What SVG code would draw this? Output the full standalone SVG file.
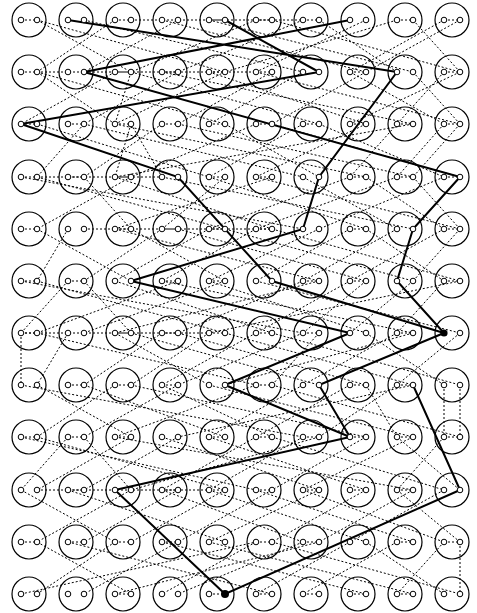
<svg xmlns="http://www.w3.org/2000/svg" width="477" height="613" viewBox="0 0 477 613">
<defs>
<style>
.n{fill:none;stroke:#000;stroke-width:1.2}
.p{fill:#fff;stroke:#000;stroke-width:1}
.d{fill:none;stroke:#000;stroke-width:1;stroke-dasharray:2,2}
.b{fill:none;stroke:#000;stroke-width:2}
</style>
<g id="node"><circle class="n" cx="0" cy="0" r="17"/></g>
</defs>
<rect width="477" height="613" fill="#fff"/>
<g id="nodes">
<g id="row1"><use href="#node" x="29" y="20"/><use href="#node" x="76" y="20"/><use href="#node" x="123" y="20"/><use href="#node" x="170" y="20"/><use href="#node" x="217" y="20"/><use href="#node" x="264" y="20"/><use href="#node" x="311" y="20"/><use href="#node" x="358" y="20"/><use href="#node" x="405" y="20"/><use href="#node" x="452" y="20"/></g>
<g id="row2"><use href="#node" x="29" y="72"/><use href="#node" x="76" y="72"/><use href="#node" x="123" y="72"/><use href="#node" x="170" y="72"/><use href="#node" x="217" y="72"/><use href="#node" x="264" y="72"/><use href="#node" x="311" y="72"/><use href="#node" x="358" y="72"/><use href="#node" x="405" y="72"/><use href="#node" x="452" y="72"/></g>
<g id="row3"><use href="#node" x="29" y="124"/><use href="#node" x="76" y="124"/><use href="#node" x="123" y="124"/><use href="#node" x="170" y="124"/><use href="#node" x="217" y="124"/><use href="#node" x="264" y="124"/><use href="#node" x="311" y="124"/><use href="#node" x="358" y="124"/><use href="#node" x="405" y="124"/><use href="#node" x="452" y="124"/></g>
<g id="row4"><use href="#node" x="29" y="177"/><use href="#node" x="76" y="177"/><use href="#node" x="123" y="177"/><use href="#node" x="170" y="177"/><use href="#node" x="217" y="177"/><use href="#node" x="264" y="177"/><use href="#node" x="311" y="177"/><use href="#node" x="358" y="177"/><use href="#node" x="405" y="177"/><use href="#node" x="452" y="177"/></g>
<g id="row5"><use href="#node" x="29" y="229"/><use href="#node" x="76" y="229"/><use href="#node" x="123" y="229"/><use href="#node" x="170" y="229"/><use href="#node" x="217" y="229"/><use href="#node" x="264" y="229"/><use href="#node" x="311" y="229"/><use href="#node" x="358" y="229"/><use href="#node" x="405" y="229"/><use href="#node" x="452" y="229"/></g>
<g id="row6"><use href="#node" x="29" y="281"/><use href="#node" x="76" y="281"/><use href="#node" x="123" y="281"/><use href="#node" x="170" y="281"/><use href="#node" x="217" y="281"/><use href="#node" x="264" y="281"/><use href="#node" x="311" y="281"/><use href="#node" x="358" y="281"/><use href="#node" x="405" y="281"/><use href="#node" x="452" y="281"/></g>
<g id="row7"><use href="#node" x="29" y="333"/><use href="#node" x="76" y="333"/><use href="#node" x="123" y="333"/><use href="#node" x="170" y="333"/><use href="#node" x="217" y="333"/><use href="#node" x="264" y="333"/><use href="#node" x="311" y="333"/><use href="#node" x="358" y="333"/><use href="#node" x="405" y="333"/><use href="#node" x="452" y="333"/></g>
<g id="row8"><use href="#node" x="29" y="385"/><use href="#node" x="76" y="385"/><use href="#node" x="123" y="385"/><use href="#node" x="170" y="385"/><use href="#node" x="217" y="385"/><use href="#node" x="264" y="385"/><use href="#node" x="311" y="385"/><use href="#node" x="358" y="385"/><use href="#node" x="405" y="385"/><use href="#node" x="452" y="385"/></g>
<g id="row9"><use href="#node" x="29" y="437"/><use href="#node" x="76" y="437"/><use href="#node" x="123" y="437"/><use href="#node" x="170" y="437"/><use href="#node" x="217" y="437"/><use href="#node" x="264" y="437"/><use href="#node" x="311" y="437"/><use href="#node" x="358" y="437"/><use href="#node" x="405" y="437"/><use href="#node" x="452" y="437"/></g>
<g id="row10"><use href="#node" x="29" y="490"/><use href="#node" x="76" y="490"/><use href="#node" x="123" y="490"/><use href="#node" x="170" y="490"/><use href="#node" x="217" y="490"/><use href="#node" x="264" y="490"/><use href="#node" x="311" y="490"/><use href="#node" x="358" y="490"/><use href="#node" x="405" y="490"/><use href="#node" x="452" y="490"/></g>
<g id="row11"><use href="#node" x="29" y="542"/><use href="#node" x="76" y="542"/><use href="#node" x="123" y="542"/><use href="#node" x="170" y="542"/><use href="#node" x="217" y="542"/><use href="#node" x="264" y="542"/><use href="#node" x="311" y="542"/><use href="#node" x="358" y="542"/><use href="#node" x="405" y="542"/><use href="#node" x="452" y="542"/></g>
<g id="row12"><use href="#node" x="29" y="594"/><use href="#node" x="76" y="594"/><use href="#node" x="123" y="594"/><use href="#node" x="170" y="594"/><use href="#node" x="217" y="594"/><use href="#node" x="264" y="594"/><use href="#node" x="311" y="594"/><use href="#node" x="358" y="594"/><use href="#node" x="405" y="594"/><use href="#node" x="452" y="594"/></g>
</g>
<g id="connectors">
<path class="d" d="M21 20H37M115 20H131M209 20H225M256 20H272M303 20H319M397 20H413M444 20H460M21 72H37M115 72H131M162 72H178M209 72H225M256 72H272M350 72H366M444 72H460M21 124H37M68 124H84M115 124H131M162 124H178M209 124H225M256 124H272M303 124H319M350 124H366M397 124H413M444 124H460M21 177H37M68 177H84M115 177H131M209 177H225M256 177H272M350 177H366M397 177H413M444 177H460M21 229H37M115 229H131M162 229H178M209 229H225M256 229H272M350 229H366M444 229H460M21 281H37M68 281H84M162 281H178M209 281H225M303 281H319M350 281H366M444 281H460M21 333H37M115 333H131M162 333H178M209 333H225M256 333H272M303 333H319M397 333H413M68 385H84M115 385H131M162 385H178M256 385H272M350 385H366M397 385H413M21 437H37M68 437H84M115 437H131M209 437H225M256 437H272M303 437H319M350 437H366M397 437H413M444 437H460M68 490H84M162 490H178M209 490H225M256 490H272M303 490H319M350 490H366M397 490H413M21 542H37M68 542H84M115 542H131M162 542H178M256 542H272M303 542H319M397 542H413M444 542H460M115 594H131M209 594H225M256 594H272M303 594H319M350 594H366M397 594H413"/>
<path class="d" d="M37 20L225 72M37 20L131 72M84 20L303 72M115 20L37 72M162 20L366 72M178 20L84 72M209 20L413 72M256 20L131 72M272 20L460 72M303 20L178 72M319 20L397 72M366 20L256 72M397 20L225 72M413 20L460 72M444 20L350 72M460 20L366 72M131 20L303 20"/>
<path class="d" d="M37 72L115 124M37 72L225 124M131 72L319 124M115 72L21 124M162 72L413 124M178 72L84 124M209 72L366 124M225 72L115 124M256 72L460 124M272 72L178 124M303 72L209 124M350 72L444 124M366 72L272 124M413 72L460 124M444 72L397 124M460 72L350 124M131 72L115 124M37 72L256 72"/>
<path class="d" d="M37 124L209 177M84 124L303 177M131 124L162 177M115 124L366 177M162 124L84 177M178 124L413 177M225 124L319 177M256 124L131 177M272 124L460 177M303 124L209 177M319 124L444 177M366 124L256 177M397 124L350 177M413 124L115 177M444 124L397 177M460 124L413 177M131 124L115 177M84 124L37 177"/>
<path class="d" d="M37 177L225 229M84 177L131 229M21 177L303 229M131 177L37 229M115 177L272 229M162 177L413 229M209 177L366 229M225 177L162 229M256 177L460 229M272 177L115 229M303 177L397 229M350 177L209 229M366 177L444 229M397 177L256 229M413 177L460 229M444 177L319 229M37 177L162 177"/>
<path class="d" d="M37 229L131 281M68 229L37 281M131 229L225 281M115 229L319 281M162 229L84 281M178 229L366 281M209 229L115 281M225 229L413 281M256 229L162 281M272 229L460 281M319 229L209 281M350 229L256 281M366 229L444 281M397 229L303 281M444 229L350 281M460 229L413 281M84 229L272 229"/>
<path class="d" d="M37 281L225 333M84 281L131 333M21 281L303 333M68 281L21 333M115 281L272 333M162 281L413 333M178 281L37 333M209 281L366 333M225 281L84 333M256 281L460 333M303 281L178 333M319 281L115 333M350 281L256 333M366 281L303 333M413 281L350 333M444 281L397 333M460 281L209 333"/>
<path class="d" d="M21 333L21 385M37 333L256 385M68 333L37 385M131 333L319 385M115 333L209 385M162 333L84 385M178 333L366 385M209 333L131 385M225 333L413 385M256 333L162 385M272 333L460 385M303 333L178 385M319 333L272 385M366 333L444 385M397 333L303 385M413 333L225 385M460 333L397 385M21 333L209 333"/>
<path class="d" d="M37 385L131 437M84 385L225 437M21 385L303 437M115 385L37 437M131 385L366 437M162 385L272 437M178 385L84 437M209 385L413 437M256 385L115 437M272 385L460 437M303 385L209 437M350 385L256 437M366 385L397 437M397 385L319 437M413 385L178 437M444 385L444 437M460 385L460 437"/>
<path class="d" d="M37 437L225 490M84 437L131 490M21 437L256 490M68 437L21 490M115 437L413 490M131 437L37 490M162 437L319 490M178 437L84 490M209 437L366 490M256 437L162 490M272 437L444 490M303 437L209 490M319 437L131 490M366 437L272 490M397 437L460 490M413 437L303 490M444 437L397 490"/>
<path class="d" d="M21 490L115 542M68 490L225 542M131 490L37 542M162 490L303 542M178 490L84 542M209 490L366 542M225 490L131 542M256 490L413 542M272 490L178 542M303 490L444 542M319 490L209 542M366 490L272 542M397 490L460 542M413 490L319 542M444 490L350 542M37 490L209 490"/>
<path class="d" d="M37 542L131 594M21 594L256 542M68 542L272 594M115 542L37 594M162 542L366 594M178 542L84 594M209 542L413 594M256 542L162 594M272 542L460 594M303 542L178 594M319 542L115 594M350 542L256 594M366 542L444 594M397 542L303 594M444 542L397 594M460 542L460 594"/>
<path class="b" d="M68 20L397 72M225 20L319 72M84 72L350 20M84 72L460 177M21 124L319 72M21 124L178 177L272 281L444 333M397 72L319 177L303 229L131 281M460 177L413 229L397 281L444 333M131 281L350 333M444 333L319 385L350 437M225 385L350 333M225 385L350 437M115 490L350 437M115 490L225 594L460 490M460 490L413 385"/>
</g>
<g id="ports" class="p">
<path class="p" d="M0 0"/>
</g>
<g id="portdots">
<g id="r1p"><circle class="p" cx="21" cy="20" r="2.8"/><circle class="p" cx="37" cy="20" r="2.8"/><circle class="p" cx="68" cy="20" r="2.8"/><circle class="p" cx="84" cy="20" r="2.8"/><circle class="p" cx="115" cy="20" r="2.8"/><circle class="p" cx="131" cy="20" r="2.8"/><circle class="p" cx="162" cy="20" r="2.8"/><circle class="p" cx="178" cy="20" r="2.8"/><circle class="p" cx="209" cy="20" r="2.8"/><circle class="p" cx="225" cy="20" r="2.8"/><circle class="p" cx="256" cy="20" r="2.8"/><circle class="p" cx="272" cy="20" r="2.8"/><circle class="p" cx="303" cy="20" r="2.8"/><circle class="p" cx="319" cy="20" r="2.8"/><circle class="p" cx="350" cy="20" r="2.8"/><circle class="p" cx="366" cy="20" r="2.8"/><circle class="p" cx="397" cy="20" r="2.8"/><circle class="p" cx="413" cy="20" r="2.8"/><circle class="p" cx="444" cy="20" r="2.8"/><circle class="p" cx="460" cy="20" r="2.8"/></g>
<g id="r2p"><circle class="p" cx="21" cy="72" r="2.8"/><circle class="p" cx="37" cy="72" r="2.8"/><circle class="p" cx="68" cy="72" r="2.8"/><circle class="p" cx="84" cy="72" r="2.8"/><circle class="p" cx="115" cy="72" r="2.8"/><circle class="p" cx="131" cy="72" r="2.8"/><circle class="p" cx="162" cy="72" r="2.8"/><circle class="p" cx="178" cy="72" r="2.8"/><circle class="p" cx="209" cy="72" r="2.8"/><circle class="p" cx="225" cy="72" r="2.8"/><circle class="p" cx="256" cy="72" r="2.8"/><circle class="p" cx="272" cy="72" r="2.8"/><circle class="p" cx="303" cy="72" r="2.8"/><circle class="p" cx="319" cy="72" r="2.8"/><circle class="p" cx="350" cy="72" r="2.8"/><circle class="p" cx="366" cy="72" r="2.8"/><circle class="p" cx="397" cy="72" r="2.8"/><circle class="p" cx="413" cy="72" r="2.8"/><circle class="p" cx="444" cy="72" r="2.8"/><circle class="p" cx="460" cy="72" r="2.8"/></g>
<g id="r3p"><circle class="p" cx="21" cy="124" r="2.8"/><circle class="p" cx="37" cy="124" r="2.8"/><circle class="p" cx="68" cy="124" r="2.8"/><circle class="p" cx="84" cy="124" r="2.8"/><circle class="p" cx="115" cy="124" r="2.8"/><circle class="p" cx="131" cy="124" r="2.8"/><circle class="p" cx="162" cy="124" r="2.8"/><circle class="p" cx="178" cy="124" r="2.8"/><circle class="p" cx="209" cy="124" r="2.8"/><circle class="p" cx="225" cy="124" r="2.8"/><circle class="p" cx="256" cy="124" r="2.8"/><circle class="p" cx="272" cy="124" r="2.8"/><circle class="p" cx="303" cy="124" r="2.8"/><circle class="p" cx="319" cy="124" r="2.8"/><circle class="p" cx="350" cy="124" r="2.8"/><circle class="p" cx="366" cy="124" r="2.8"/><circle class="p" cx="397" cy="124" r="2.8"/><circle class="p" cx="413" cy="124" r="2.8"/><circle class="p" cx="444" cy="124" r="2.8"/><circle class="p" cx="460" cy="124" r="2.8"/></g>
<g id="r4p"><circle class="p" cx="21" cy="177" r="2.8"/><circle class="p" cx="37" cy="177" r="2.8"/><circle class="p" cx="68" cy="177" r="2.8"/><circle class="p" cx="84" cy="177" r="2.8"/><circle class="p" cx="115" cy="177" r="2.8"/><circle class="p" cx="131" cy="177" r="2.8"/><circle class="p" cx="162" cy="177" r="2.8"/><circle class="p" cx="178" cy="177" r="2.8"/><circle class="p" cx="209" cy="177" r="2.8"/><circle class="p" cx="225" cy="177" r="2.8"/><circle class="p" cx="256" cy="177" r="2.8"/><circle class="p" cx="272" cy="177" r="2.8"/><circle class="p" cx="303" cy="177" r="2.8"/><circle class="p" cx="319" cy="177" r="2.8"/><circle class="p" cx="350" cy="177" r="2.8"/><circle class="p" cx="366" cy="177" r="2.8"/><circle class="p" cx="397" cy="177" r="2.8"/><circle class="p" cx="413" cy="177" r="2.8"/><circle class="p" cx="444" cy="177" r="2.8"/><circle class="p" cx="460" cy="177" r="2.8"/></g>
<g id="r5p"><circle class="p" cx="21" cy="229" r="2.8"/><circle class="p" cx="37" cy="229" r="2.8"/><circle class="p" cx="68" cy="229" r="2.8"/><circle class="p" cx="84" cy="229" r="2.8"/><circle class="p" cx="115" cy="229" r="2.8"/><circle class="p" cx="131" cy="229" r="2.8"/><circle class="p" cx="162" cy="229" r="2.8"/><circle class="p" cx="178" cy="229" r="2.8"/><circle class="p" cx="209" cy="229" r="2.8"/><circle class="p" cx="225" cy="229" r="2.8"/><circle class="p" cx="256" cy="229" r="2.8"/><circle class="p" cx="272" cy="229" r="2.8"/><circle class="p" cx="303" cy="229" r="2.8"/><circle class="p" cx="319" cy="229" r="2.8"/><circle class="p" cx="350" cy="229" r="2.8"/><circle class="p" cx="366" cy="229" r="2.8"/><circle class="p" cx="397" cy="229" r="2.8"/><circle class="p" cx="413" cy="229" r="2.8"/><circle class="p" cx="444" cy="229" r="2.8"/><circle class="p" cx="460" cy="229" r="2.8"/></g>
<g id="r6p"><circle class="p" cx="21" cy="281" r="2.8"/><circle class="p" cx="37" cy="281" r="2.8"/><circle class="p" cx="68" cy="281" r="2.8"/><circle class="p" cx="84" cy="281" r="2.8"/><circle class="p" cx="115" cy="281" r="2.8"/><circle class="p" cx="131" cy="281" r="2.8"/><circle class="p" cx="162" cy="281" r="2.8"/><circle class="p" cx="178" cy="281" r="2.8"/><circle class="p" cx="209" cy="281" r="2.8"/><circle class="p" cx="225" cy="281" r="2.8"/><circle class="p" cx="256" cy="281" r="2.8"/><circle class="p" cx="272" cy="281" r="2.8"/><circle class="p" cx="303" cy="281" r="2.8"/><circle class="p" cx="319" cy="281" r="2.8"/><circle class="p" cx="350" cy="281" r="2.8"/><circle class="p" cx="366" cy="281" r="2.8"/><circle class="p" cx="397" cy="281" r="2.8"/><circle class="p" cx="413" cy="281" r="2.8"/><circle class="p" cx="444" cy="281" r="2.8"/><circle class="p" cx="460" cy="281" r="2.8"/></g>
<g id="r7p"><circle class="p" cx="21" cy="333" r="2.8"/><circle class="p" cx="37" cy="333" r="2.8"/><circle class="p" cx="68" cy="333" r="2.8"/><circle class="p" cx="84" cy="333" r="2.8"/><circle class="p" cx="115" cy="333" r="2.8"/><circle class="p" cx="131" cy="333" r="2.8"/><circle class="p" cx="162" cy="333" r="2.8"/><circle class="p" cx="178" cy="333" r="2.8"/><circle class="p" cx="209" cy="333" r="2.8"/><circle class="p" cx="225" cy="333" r="2.8"/><circle class="p" cx="256" cy="333" r="2.8"/><circle class="p" cx="272" cy="333" r="2.8"/><circle class="p" cx="303" cy="333" r="2.8"/><circle class="p" cx="319" cy="333" r="2.8"/><circle class="p" cx="350" cy="333" r="2.8"/><circle class="p" cx="366" cy="333" r="2.8"/><circle class="p" cx="397" cy="333" r="2.8"/><circle class="p" cx="413" cy="333" r="2.8"/><circle cx="444" cy="333" r="3.6" fill="#000"/><circle class="p" cx="460" cy="333" r="2.8"/></g>
<g id="r8p"><circle class="p" cx="21" cy="385" r="2.8"/><circle class="p" cx="37" cy="385" r="2.8"/><circle class="p" cx="68" cy="385" r="2.8"/><circle class="p" cx="84" cy="385" r="2.8"/><circle class="p" cx="115" cy="385" r="2.8"/><circle class="p" cx="131" cy="385" r="2.8"/><circle class="p" cx="162" cy="385" r="2.8"/><circle class="p" cx="178" cy="385" r="2.8"/><circle class="p" cx="209" cy="385" r="2.8"/><circle class="p" cx="225" cy="385" r="2.8"/><circle class="p" cx="256" cy="385" r="2.8"/><circle class="p" cx="272" cy="385" r="2.8"/><circle class="p" cx="303" cy="385" r="2.8"/><circle class="p" cx="319" cy="385" r="2.8"/><circle class="p" cx="350" cy="385" r="2.8"/><circle class="p" cx="366" cy="385" r="2.8"/><circle class="p" cx="397" cy="385" r="2.8"/><circle class="p" cx="413" cy="385" r="2.8"/><circle class="p" cx="444" cy="385" r="2.8"/><circle class="p" cx="460" cy="385" r="2.8"/></g>
<g id="r9p"><circle class="p" cx="21" cy="437" r="2.8"/><circle class="p" cx="37" cy="437" r="2.8"/><circle class="p" cx="68" cy="437" r="2.8"/><circle class="p" cx="84" cy="437" r="2.8"/><circle class="p" cx="115" cy="437" r="2.8"/><circle class="p" cx="131" cy="437" r="2.8"/><circle class="p" cx="162" cy="437" r="2.8"/><circle class="p" cx="178" cy="437" r="2.8"/><circle class="p" cx="209" cy="437" r="2.8"/><circle class="p" cx="225" cy="437" r="2.8"/><circle class="p" cx="256" cy="437" r="2.8"/><circle class="p" cx="272" cy="437" r="2.8"/><circle class="p" cx="303" cy="437" r="2.8"/><circle class="p" cx="319" cy="437" r="2.8"/><circle class="p" cx="350" cy="437" r="2.8"/><circle class="p" cx="366" cy="437" r="2.8"/><circle class="p" cx="397" cy="437" r="2.8"/><circle class="p" cx="413" cy="437" r="2.8"/><circle class="p" cx="444" cy="437" r="2.8"/><circle class="p" cx="460" cy="437" r="2.8"/></g>
<g id="r10p"><circle class="p" cx="21" cy="490" r="2.8"/><circle class="p" cx="37" cy="490" r="2.8"/><circle class="p" cx="68" cy="490" r="2.8"/><circle class="p" cx="84" cy="490" r="2.8"/><circle class="p" cx="115" cy="490" r="2.8"/><circle class="p" cx="131" cy="490" r="2.8"/><circle class="p" cx="162" cy="490" r="2.8"/><circle class="p" cx="178" cy="490" r="2.8"/><circle class="p" cx="209" cy="490" r="2.8"/><circle class="p" cx="225" cy="490" r="2.8"/><circle class="p" cx="256" cy="490" r="2.8"/><circle class="p" cx="272" cy="490" r="2.8"/><circle class="p" cx="303" cy="490" r="2.8"/><circle class="p" cx="319" cy="490" r="2.8"/><circle class="p" cx="350" cy="490" r="2.8"/><circle class="p" cx="366" cy="490" r="2.8"/><circle class="p" cx="397" cy="490" r="2.8"/><circle class="p" cx="413" cy="490" r="2.8"/><circle class="p" cx="444" cy="490" r="2.8"/><circle class="p" cx="460" cy="490" r="2.8"/></g>
<g id="r11p"><circle class="p" cx="21" cy="542" r="2.8"/><circle class="p" cx="37" cy="542" r="2.8"/><circle class="p" cx="68" cy="542" r="2.8"/><circle class="p" cx="84" cy="542" r="2.8"/><circle class="p" cx="115" cy="542" r="2.8"/><circle class="p" cx="131" cy="542" r="2.8"/><circle class="p" cx="162" cy="542" r="2.8"/><circle class="p" cx="178" cy="542" r="2.8"/><circle class="p" cx="209" cy="542" r="2.8"/><circle class="p" cx="225" cy="542" r="2.8"/><circle class="p" cx="256" cy="542" r="2.8"/><circle class="p" cx="272" cy="542" r="2.8"/><circle class="p" cx="303" cy="542" r="2.8"/><circle class="p" cx="319" cy="542" r="2.8"/><circle class="p" cx="350" cy="542" r="2.8"/><circle class="p" cx="366" cy="542" r="2.8"/><circle class="p" cx="397" cy="542" r="2.8"/><circle class="p" cx="413" cy="542" r="2.8"/><circle class="p" cx="444" cy="542" r="2.8"/><circle class="p" cx="460" cy="542" r="2.8"/></g>
<g id="r12p"><circle class="p" cx="21" cy="594" r="2.8"/><circle class="p" cx="37" cy="594" r="2.8"/><circle class="p" cx="68" cy="594" r="2.8"/><circle class="p" cx="84" cy="594" r="2.8"/><circle class="p" cx="115" cy="594" r="2.8"/><circle class="p" cx="131" cy="594" r="2.8"/><circle class="p" cx="162" cy="594" r="2.8"/><circle class="p" cx="178" cy="594" r="2.8"/><circle class="p" cx="209" cy="594" r="2.8"/><circle cx="225" cy="594" r="4" fill="#000"/><circle class="p" cx="256" cy="594" r="2.8"/><circle class="p" cx="272" cy="594" r="2.8"/><circle class="p" cx="303" cy="594" r="2.8"/><circle class="p" cx="319" cy="594" r="2.8"/><circle class="p" cx="350" cy="594" r="2.8"/><circle class="p" cx="366" cy="594" r="2.8"/><circle class="p" cx="397" cy="594" r="2.8"/><circle class="p" cx="413" cy="594" r="2.8"/><circle class="p" cx="444" cy="594" r="2.8"/><circle class="p" cx="460" cy="594" r="2.8"/></g>
</g>
</svg>
